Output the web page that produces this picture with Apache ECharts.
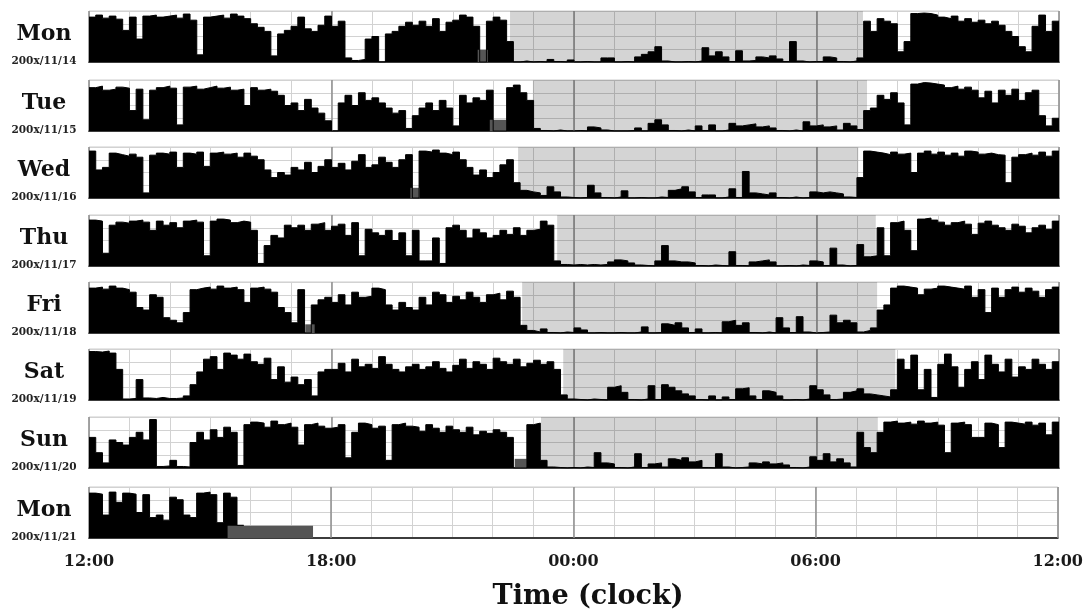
<!DOCTYPE html>
<html><head><meta charset="utf-8">
<script src="https://cdn.jsdelivr.net/npm/echarts@6/dist/echarts.min.js"></script>
<style>html,body{margin:0;padding:0;background:#fff;}#c{width:1086px;height:612px;}</style>
</head><body><div id="c"></div>
<script>
// ---- data ----
const dayNames = ['Mon','Tue','Wed','Thu','Fri','Sat','Sun','Mon'];
const dayDates = ['200x/11/14','200x/11/15','200x/11/16','200x/11/17','200x/11/18','200x/11/19','200x/11/20','200x/11/21'];
const tickLabels = ['12:00','18:00','00:00','06:00','12:00'];
const binMinutes = 10; // each activity value covers 10 minutes, starting at 12:00

const act1114 = [
 88,92,86,90,84,62, 88,45,90,92,88,90, 92,86,94,82,14,88, 90,92,86,94,90,85,
 75,68,60,12,55,62, 70,88,65,60,72,90, 70,80,8,3,5,45, 50,0,55,60,70,78,
 72,80,70,85,60,78, 82,92,88,70,0,80, 88,82,40,0,2,0, 1,0,5,1,0,4,
 0,1,0,0,8,8, 0,1,0,10,15,20, 30,2,0,0,1,0, 2,28,12,20,10,1,
 22,2,3,10,8,12, 6,1,40,2,0,1, 1,10,8,1,0,2, 8,80,60,85,80,75,
 20,40,95,96,95,92, 88,85,90,80,85,78, 82,75,80,72,60,50, 30,20,70,92,60,80];
const act1115 = [
 85,88,80,82,86,84, 40,82,22,80,85,88, 84,12,86,88,82,85, 88,84,86,80,82,50,
 85,80,82,78,70,50, 55,40,62,45,35,20, 0,55,70,50,75,60, 65,55,45,35,40,5,
 30,45,55,40,60,45, 10,70,55,65,60,80, 0,0,85,90,75,60, 5,1,0,2,0,0,
 1,0,8,6,2,0, 0,0,1,6,0,15, 22,12,1,0,2,0, 10,1,12,0,2,15,
 10,12,14,8,10,6, 1,0,2,0,18,10, 12,8,10,2,15,10, 3,40,45,70,62,75,
 55,12,92,95,94,92, 90,85,88,82,86,80, 65,78,55,80,70,82, 60,75,80,30,10,25];
const act1116 = [
 92,55,60,88,85,82, 86,80,10,84,88,86, 90,60,88,86,90,62, 88,90,86,88,80,88,
 82,75,55,40,50,45, 60,55,70,50,62,75, 60,68,55,72,85,60, 65,80,70,60,75,85,
 0,92,90,94,88,85, 90,75,60,45,55,40, 50,65,75,30,15,12, 10,5,22,12,2,1,
 0,1,25,10,1,0, 2,14,0,1,0,0, 2,1,15,18,22,12, 1,6,6,0,2,18,
 1,52,10,8,6,10, 1,0,2,0,1,12, 10,12,10,8,2,1, 40,92,90,88,85,90,
 86,88,50,88,92,86, 90,84,88,82,92,90, 86,88,85,84,30,80, 85,88,84,90,82,92];
const act1117 = [
 90,88,25,80,86,84, 88,90,86,70,88,80, 85,75,88,90,86,20, 88,92,90,85,88,86,
 70,5,40,60,55,80, 75,80,70,82,85,70, 78,82,60,85,20,72, 65,60,70,50,65,20,
 70,10,10,55,5,75, 80,70,55,72,65,55, 60,70,62,75,60,70, 72,88,80,10,3,2,
 3,2,3,2,3,8, 12,10,6,2,1,0, 10,40,10,8,8,6, 1,0,2,1,0,28,
 1,0,8,10,12,8, 0,1,0,2,1,10, 8,1,35,2,0,1, 42,18,20,75,20,85,
 88,70,30,92,94,90, 86,80,85,88,82,62, 84,88,80,75,70,82, 78,65,75,80,72,88];
const act1118 = [
 88,90,86,92,88,85, 80,50,45,75,70,30, 25,20,40,85,88,90, 86,92,88,90,85,60,
 88,90,86,80,50,40, 20,85,0,55,65,70, 60,75,55,80,70,72, 88,85,55,45,60,50,
 45,70,55,80,75,60, 72,65,80,70,60,75, 78,65,82,70,15,5, 2,8,1,0,2,1,
 10,6,0,1,0,0, 1,0,0,2,12,0, 1,18,15,20,10,1, 8,0,1,0,22,25,
 15,20,1,0,2,0, 30,10,1,32,2,0, 1,2,35,20,25,20, 2,5,10,45,55,88,
 92,90,88,75,86,88, 92,90,88,86,92,70, 85,40,88,70,85,90, 80,88,82,70,85,90];
const act1119 = [
 95,94,96,92,60,2, 3,40,4,3,5,3, 3,4,8,30,55,80, 85,60,92,88,80,90,
 75,70,82,40,65,35, 45,30,40,8,55,60, 60,72,55,80,65,70, 62,85,70,60,55,65,
 70,60,65,75,62,55, 68,80,62,75,70,60, 82,75,70,80,65,72, 78,70,75,60,10,2,
 1,0,2,1,0,25, 28,15,1,0,2,28, 1,30,25,18,12,8, 1,0,8,0,6,1,
 22,24,8,1,18,15, 8,0,1,0,2,28, 20,10,1,2,15,18, 22,12,10,8,6,20,
 80,60,88,20,60,5, 70,90,65,25,60,75, 40,88,70,55,80,45, 65,60,80,70,60,75];
const act1120 = [
 60,30,10,55,50,45, 60,70,55,95,3,4, 15,3,2,50,70,55, 75,60,80,70,5,85,
 90,88,80,92,85,88, 80,45,85,88,82,78, 80,85,20,70,88,85, 78,82,15,85,88,82,
 80,72,85,78,70,82, 75,70,80,65,72,68, 75,70,60,0,0,85, 88,15,2,1,0,1,
 0,2,1,30,10,8, 1,0,2,28,1,8, 10,2,18,15,20,12, 15,1,0,28,2,0,
 1,2,10,8,12,8, 10,6,1,0,2,22, 15,28,12,18,10,2, 70,40,30,70,90,92,
 88,90,86,92,88,90, 84,30,88,90,85,60, 60,88,85,40,90,88, 86,90,84,88,65,90];
const act1121 = [
 88,86,45,90,70,88, 86,50,85,40,45,35, 80,75,45,40,88,90, 85,30,88,80,25];

// sleep (shaded) periods, minutes after 12:00
const sleepStart = [625, 659, 637, 695, 643, 704, 671, null];
const sleepEnd   = [1149, 1155, 1142, 1168, 1170, 1197, 1171, null];
// grey blocks (missing data), minutes after 12:00, and their level
const gapRow   = [0, 1, 2, 4, 6, 7];
const gapStart = [577, 595, 477, 321, 632, 206];
const gapEnd   = [592, 620, 491, 335, 650, 333];
const gapLevel = [24, 22, 20, 17, 18, 24];

const activity = [act1114, act1115, act1116, act1117, act1118, act1119, act1120, act1121];

// ---- chart ----
const panelTop = [11, 80, 147, 215, 282, 349, 417, 487];
const serif = 'DejaVu Serif';
const grids = [], xAxes = [], yAxes = [], series = [], graphics = [];
for (let i = 0; i < 8; i++) {
  grids.push({left: 89, width: 970, top: panelTop[i], height: 51, show: true,
    borderColor: '#cdcdcd', borderWidth: 1, backgroundColor: '#fff'});
  xAxes.push({type: 'value', gridIndex: i, position: 'bottom', min: 0, max: 1440, interval: 60,
    axisLine: {show: true, onZero: false, lineStyle: {color: '#3c3c3c', width: 2}},
    axisTick: {show: false},
    axisLabel: {show: i === 7, showMinLabel: true, showMaxLabel: true, margin: 16,
      fontFamily: serif, fontWeight: 'bold', fontSize: 16, color: '#1a1a1a',
      formatter: v => (v % 360 === 0 ? tickLabels[v / 360] : '')},
    splitLine: {show: true, lineStyle: {color: '#d2d2d2', width: 1}}});
  xAxes.push({type: 'value', gridIndex: i, position: 'top', min: 0, max: 1440, interval: 360, z: 1,
    axisLine: {show: false}, axisTick: {show: false}, axisLabel: {show: false},
    splitLine: {show: true, lineStyle: {color: '#8e8e8e', width: 1.5}}});
  yAxes.push({type: 'value', gridIndex: i, min: 0, max: 100, interval: 25,
    axisLine: {show: false}, axisTick: {show: false}, axisLabel: {show: false},
    splitLine: {show: true, lineStyle: {color: '#d2d2d2', width: 1}}});

  const a = activity[i];
  const pts = a.map((v, k) => [k * binMinutes, v]);
  pts.push([a.length * binMinutes, a[a.length - 1]]);
  const s = {type: 'line', xAxisIndex: 2 * i, yAxisIndex: i, data: pts, step: 'end',
    symbol: 'none', silent: true, animation: false,
    lineStyle: {color: '#000', width: 1}, areaStyle: {color: '#000', opacity: 1}};
  if (sleepStart[i] !== null) {
    s.markArea = {silent: true, itemStyle: {color: 'rgba(0,0,0,0.17)'},
      data: [[{xAxis: sleepStart[i]}, {xAxis: sleepEnd[i]}]]};
  }
  series.push(s);

  graphics.push({type: 'text', x: 44, y: panelTop[i] + 23,
    style: {text: dayNames[i], textAlign: 'center', textVerticalAlign: 'middle',
      font: 'bold 22px "DejaVu Serif"', fill: '#111'}});
  graphics.push({type: 'text', x: 44, y: panelTop[i] + 50,
    style: {text: dayDates[i], textAlign: 'center', textVerticalAlign: 'middle',
      font: 'bold 10.5px "DejaVu Serif"', fill: '#222'}});
}
gapRow.forEach((r, k) => {
  series.push({type: 'line', xAxisIndex: 2 * r, yAxisIndex: r, symbol: 'none', silent: true, animation: false,
    data: [[gapStart[k], gapLevel[k]], [gapEnd[k], gapLevel[k]]],
    lineStyle: {width: 0}, areaStyle: {color: '#555', opacity: 1}});
});
graphics.push({type: 'text', x: 588, y: 597,
  style: {text: 'Time (clock)', textAlign: 'center', textVerticalAlign: 'middle',
    font: 'bold 27px "DejaVu Serif"', fill: '#111'}});

const chart = echarts.init(document.getElementById('c'), null, {renderer: 'canvas'});
chart.setOption({animation: false, backgroundColor: '#fff',
  grid: grids, xAxis: xAxes, yAxis: yAxes, series: series, graphic: graphics});
</script></body></html>
